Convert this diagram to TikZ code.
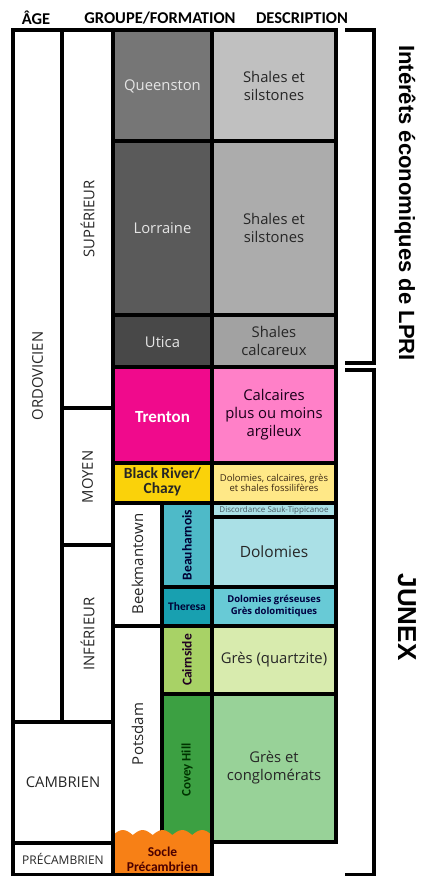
\documentclass[tikz,border=0pt]{standalone}
\usepackage{fontspec}
\setmainfont{Open Sans}
\newfontfamily\calfont{Carlito}
\newfontfamily\arialfont{Liberation Sans}

\definecolor{queenC}{RGB}{118,118,118}
\definecolor{lorrC}{RGB}{90,90,90}
\definecolor{uticaC}{RGB}{72,72,72}
\definecolor{queenD}{RGB}{192,192,192}
\definecolor{lorrD}{RGB}{172,172,172}
\definecolor{uticaD}{RGB}{162,162,162}
\definecolor{trentonC}{RGB}{240,10,140}
\definecolor{trentonD}{RGB}{255,128,200}
\definecolor{riverC}{RGB}{250,210,10}
\definecolor{riverD}{RGB}{255,232,135}
\definecolor{beauC}{RGB}{78,186,200}
\definecolor{beauD}{RGB}{170,224,230}
\definecolor{theresaC}{RGB}{24,160,176}
\definecolor{theresaD}{RGB}{104,202,214}
\definecolor{cairnC}{RGB}{168,210,102}
\definecolor{cairnD}{RGB}{216,235,174}
\definecolor{coveyC}{RGB}{60,160,66}
\definecolor{coveyD}{RGB}{152,210,152}
\definecolor{socleC}{RGB}{247,128,22}

\begin{document}
\begin{tikzpicture}[x=1pt,y=-1pt,
  cell/.style={draw=black, line width=3.5pt},
  lbl/.style={inner sep=0pt, align=center, text=black!85, font=\fontsize{14.8}{18}\selectfont},
  fm/.style={lbl, text=white!90!black},
  bd/.style={inner sep=0pt, align=center, font=\calfont\bfseries\fontsize{13.5}{15}\selectfont},
  head/.style={inner sep=0pt, font=\calfont\bfseries\fontsize{16.5}{18}\selectfont},
  side/.style={inner sep=0pt, rotate=-90, font=\arialfont\bfseries\fontsize{22}{24}\selectfont},
  ]
  \useasboundingbox (0,0) rectangle (421,876);

  % headers
  \node[head] (age) at (36,18) {ÂGE};
  \node[head] (groupe) at (160,18) {GROUPE/FORMATION};
  \node[head] (descr) at (302,18) {DESCRIPTION};

  % age column
  \filldraw[cell, fill=white] (13,30) rectangle (62,722);
  \node[lbl, rotate=90] (ordovicien) at (37.5,376) {ORDOVICIEN};
  \filldraw[cell, fill=white] (62,30) rectangle (113,408);
  \node[lbl, rotate=90] (superieur) at (87.5,219) {SUPÉRIEUR};
  \filldraw[cell, fill=white] (62,408) rectangle (113,545);
  \node[lbl, rotate=90] (moyen) at (87.5,477) {MOYEN};
  \filldraw[cell, fill=white] (62,545) rectangle (113,722);
  \node[lbl, rotate=90] (inferieur) at (87.5,634) {INFÉRIEUR};
  \filldraw[cell, fill=white] (13,722) rectangle (113,843);
  \node[lbl] (cambrien) at (63,782) {CAMBRIEN};
  \filldraw[cell, fill=white] (13,843) rectangle (113,875);
  \node[lbl, font=\fontsize{12}{13}\selectfont] (precambrien) at (63,859) {PRÉCAMBRIEN};

  % groupes / formations
  \filldraw[cell, fill=queenC] (113,30) rectangle (212,141);
  \node[fm] (queenston) at (162.5,86) {Queenston};
  \filldraw[cell, fill=lorrC] (113,141) rectangle (212,315);
  \node[fm] (lorraine) at (162.5,228) {Lorraine};
  \filldraw[cell, fill=uticaC] (113,315) rectangle (212,367);
  \node[fm] (utica) at (162.5,342) {Utica};
  \filldraw[cell, fill=trentonC] (113,367) rectangle (212,463);
  \node[bd, text=white, font=\calfont\bfseries\fontsize{17}{18}\selectfont] (trenton) at (162.5,417) {Trenton};
  \filldraw[cell, fill=riverC] (113,463) rectangle (212,503);
  \node[bd, text=black!85, font=\calfont\bfseries\fontsize{15.5}{15}\selectfont] (blackriver) at (162.5,482) {Black River/\\Chazy};
  \filldraw[cell, fill=white] (113,503) rectangle (162,626);
  \node[lbl, rotate=90, font=\fontsize{15}{18}\selectfont] (beekmantown) at (137.5,564) {Beekmantown};
  \filldraw[cell, fill=beauC] (162,503) rectangle (212,587);
  \node[bd, rotate=90, text=black!80!blue] (beauharnois) at (187,545) {Beauharnois};
  \filldraw[cell, fill=theresaC] (162,587) rectangle (212,626);
  \node[bd, text=black!80!blue, font=\calfont\bfseries\fontsize{11.5}{13}\selectfont] (theresa) at (187,606) {Theresa};
  \filldraw[cell, fill=white] (113,626) rectangle (162,845);
  \node[lbl, rotate=90, font=\fontsize{15}{18}\selectfont] (potsdam) at (137.5,734) {Potsdam};
  \filldraw[cell, fill=cairnC] (162,626) rectangle (212,694);
  \node[bd, rotate=90, text=black!75!violet] (cairnside) at (187,660) {Cairnside};
  \filldraw[cell, fill=coveyC] (162,694) rectangle (212,845);
  \node[bd, rotate=90, text=black!80!green, font=\calfont\bfseries\fontsize{13}{15}\selectfont] (coveyhill) at (187,770) {Covey Hill};

  % socle
  \fill[socleC] (113,875) -- (113,835) \foreach \i in {1,...,5} {sin ++(9.9,-5) cos ++(9.9,5)} -- (212,875) -- cycle;
  \draw[cell] (113,826) -- (113,875) -- (212,875) -- (212,826);
  \node[bd, text=black!70!red] (socle) at (162.5,859) {Socle\\Précambrien};

  % descriptions
  \filldraw[cell, fill=queenD] (212,30) rectangle (336,141);
  \node[lbl] (shalesQ) at (274,86) {Shales et\\silstones};
  \filldraw[cell, fill=lorrD] (212,141) rectangle (336,315);
  \node[lbl] (shalesL) at (274,228) {Shales et\\silstones};
  \filldraw[cell, fill=uticaD] (212,315) rectangle (336,367);
  \node[lbl] (shalesU) at (274,341) {Shales\\calcareux};
  \filldraw[cell, fill=trentonD] (212,367) rectangle (336,463);
  \node[lbl, text=black!80!violet] (calcaires) at (274,415) {Calcaires\\plus ou moins\\argileux};
  \filldraw[cell, fill=riverD] (212,463) rectangle (336,503);
  \node[lbl, text=black!70!brown, font=\fontsize{9.5}{10.5}\selectfont] (dolocalc) at (274,483) {Dolomies, calcaires, grès\\et shales fossilifères};
  \filldraw[cell, fill=beauD] (212,503) rectangle (336,517);
  \node[lbl, text=black!70!cyan, font=\fontsize{8}{9}\selectfont] (discordance) at (274,510) {Discordance Sauk-Tippicanoe};
  \filldraw[cell, fill=beauD] (212,517) rectangle (336,587);
  \node[lbl, font=\fontsize{15.5}{18}\selectfont] (dolomies) at (274,552) {Dolomies};
  \filldraw[cell, fill=theresaD] (212,587) rectangle (336,626);
  \node[lbl, text=black!75!blue, font=\bfseries\fontsize{9.5}{12}\selectfont] (doloGres) at (274,606) {Dolomies gréseuses\\Grès dolomitiques};
  \filldraw[cell, fill=cairnD] (212,626) rectangle (336,694);
  \node[lbl] (quartzite) at (274,660) {Grès (quartzite)};
  \filldraw[cell, fill=coveyD] (212,694) rectangle (336,842);
  \node[lbl] (conglo) at (274,768) {Grès et\\conglomérats};

  % accolades
  \draw[cell, fill=none] (345,30) -- (374,30) -- (374,363) -- (345,363);
  \draw[cell, fill=none] (345,370) -- (374,370) -- (374,875) -- (345,875);
  \node[side] (lpri) at (405,203) {Intérêts économiques de LPRI};
  \node[side, font=\arialfont\bfseries\fontsize{26}{28}\selectfont] (junex) at (407,617) {JUNEX};
\end{tikzpicture}
\end{document}
